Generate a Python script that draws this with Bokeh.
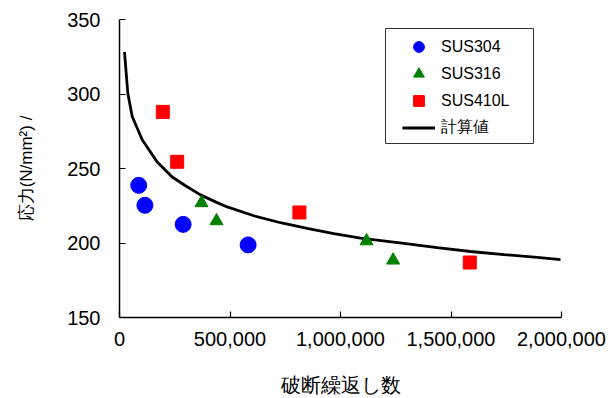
from bokeh.plotting import figure
from bokeh.models import (Range1d, NumeralTickFormatter, Legend, LegendItem,
                          BoxAnnotation, FixedTicker)
from bokeh.embed import file_html
from bokeh.resources import INLINE

# ---- data ----
x_ticks = [0, 500000, 1000000, 1500000, 2000000]
y_ticks = [150, 200, 250, 300, 350]

sus304_n = [87000, 115000, 288000, 582000]
sus304_s = [238.7, 225.3, 212.5, 198.7]

sus316_n = [371000, 439000, 1118000, 1238000]
sus316_s = [226.9, 214.8, 201.3, 188.4]

sus410_n = [196000, 261000, 814000, 1585000]
sus410_s = [288.0, 254.5, 220.5, 186.9]

calc_n = [22600, 37600, 57500, 102700, 170600, 238500, 298600, 366500,
          434400, 487300, 607700, 728500, 849300, 969700, 1090500,
          1286400, 1437600, 1588200, 1739000, 1890000, 1995500]
calc_s = [328.2, 300.5, 284.9, 269.3, 254.3, 244.3, 238.4, 232.3,
          227.6, 224.2, 218.3, 213.6, 209.8, 206.3, 203.3,
          199.8, 196.9, 194.3, 192.2, 190.4, 188.9]

labels = ["SUS304", "SUS316", "SUS410L", "計算値"]

FONT = "Liberation Sans"

p = figure(width=613, height=398, output_backend="svg", toolbar_location=None,
           x_range=Range1d(0, 2000000), y_range=Range1d(150, 350),
           min_border_left=119, min_border_right=52, min_border_top=19,
           min_border_bottom=80)
p.outline_line_color = None
p.grid.visible = False
p.background_fill_color = "white"
p.border_fill_color = "white"

p.xaxis.ticker = FixedTicker(ticks=x_ticks)
p.yaxis.ticker = FixedTicker(ticks=y_ticks)
p.xaxis.formatter = NumeralTickFormatter(format="0,0")

for ax in (p.xaxis[0], p.yaxis[0]):
    ax.major_tick_in = 6
    ax.major_tick_out = 0
    ax.minor_tick_in = 0
    ax.minor_tick_out = 0
    ax.axis_line_color = "black"
    ax.axis_line_width = 1.5
    ax.major_tick_line_color = "black"
    ax.major_tick_line_width = 1.2
    ax.major_label_text_font = FONT
    ax.major_label_text_font_size = "20px"
    ax.major_label_text_color = "black"
    ax.axis_label_text_font = FONT
    ax.axis_label_text_font_style = "normal"
    ax.axis_label_text_color = "black"

p.yaxis.major_label_standoff = 19
p.xaxis.major_label_standoff = 14
p.xaxis.axis_label = "破断繰返し数"
p.xaxis.axis_label_text_font_size = "20px"
p.xaxis.axis_label_standoff = 25
p.yaxis.axis_label = "応力(N/mm²) /"
p.yaxis.axis_label_text_font_size = "17px"
p.yaxis.axis_label_standoff = 28

r4 = p.line(calc_n, calc_s, line_width=2.8, color="black")
r1 = p.scatter(sus304_n, sus304_s, marker="circle", size=16, color="#0000FF")
r2 = p.scatter(sus316_n, sus316_s, marker="triangle", size=13, color="#008000")
r3 = p.scatter(sus410_n, sus410_s, marker="square", size=13, color="#FF0000")

legend = Legend(
    items=[LegendItem(label=labels[0], renderers=[r1]),
           LegendItem(label=labels[1], renderers=[r2]),
           LegendItem(label=labels[2], renderers=[r3]),
           LegendItem(label=labels[3], renderers=[r4])],
    location=(283, 176), padding=3, spacing=0, glyph_width=33,
    glyph_height=27, label_height=27, label_standoff=6,
    border_line_color=None, background_fill_alpha=0,
    label_text_font=FONT, label_text_font_size="16px", label_text_color="black")
p.add_layout(legend)

frame_box = BoxAnnotation(left=385, right=533, top=28, bottom=143,
                          left_units="canvas", right_units="canvas",
                          top_units="canvas", bottom_units="canvas",
                          fill_alpha=0, line_color="#333333", line_width=1,
                          line_alpha=1)
p.add_layout(frame_box)

open("out.html", "w").write(file_html(p, INLINE))
